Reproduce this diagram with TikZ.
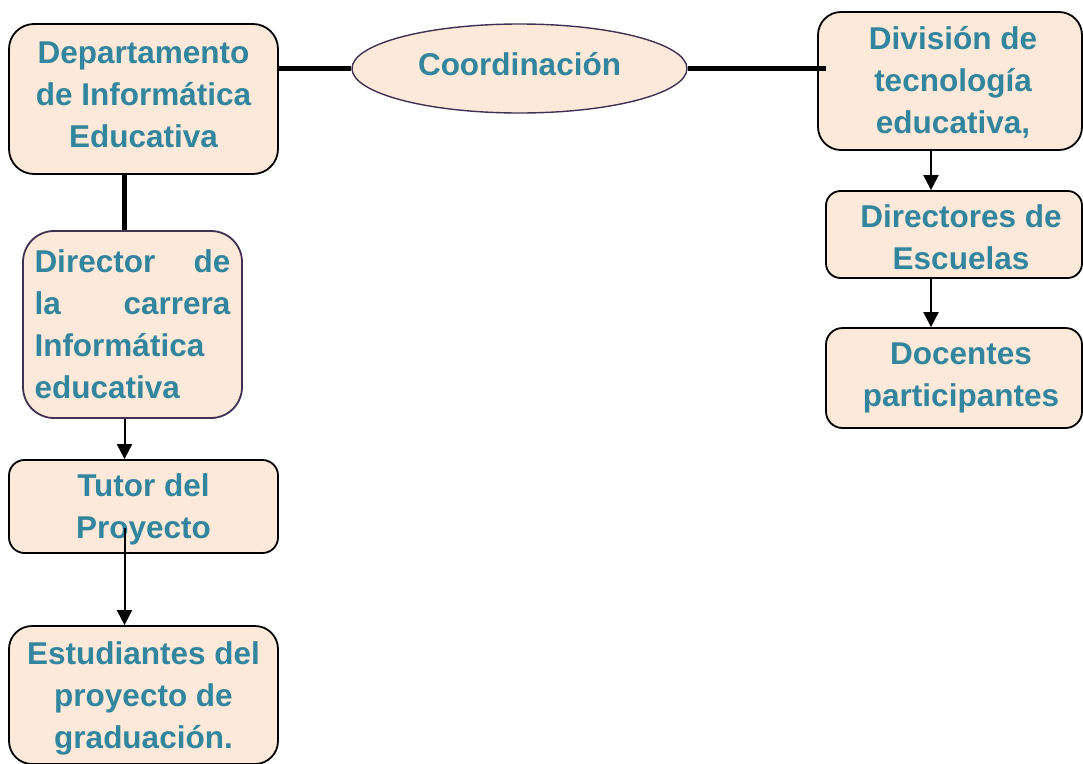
\documentclass[tikz,border=0pt]{standalone}
\usepackage{fontspec}
\setmainfont{Liberation Sans}
\usetikzlibrary{shapes.geometric,arrows.meta,calc}
\definecolor{txt}{RGB}{49,133,156}
\definecolor{boxfill}{RGB}{253,233,217}
\definecolor{purp}{RGB}{64,49,82}
\tikzset{
  base/.style={fill=boxfill, line width=1.8pt, inner sep=0pt},
  rbox/.style={base, draw=black, rectangle},
  lbl/.style={align=center, inner sep=0pt, font=\fontsize{31.5}{42}\selectfont\bfseries, text=txt},
  thickline/.style={line width=5.5pt},
  arr/.style={line width=2pt, -{Triangle[length=15pt,width=15pt]}},
}
\begin{document}
\begin{tikzpicture}[x=1pt,y=-1pt]
\useasboundingbox (0,0) rectangle (1083,763);
\coordinate (lx) at (124.5,0);
\coordinate (rx) at (931,0);
% boxes
\node[rbox, rounded corners=25pt, minimum width=269pt, minimum height=150pt] (A) at (143.5,99) {};
\node[base, draw=purp, line width=1.4pt, ellipse, minimum width=335pt, minimum height=89pt] (ell) at (519.5,68.5) {};
\node[rbox, rounded corners=23pt, minimum width=264pt, minimum height=138pt] (D) at (950,81) {};
\node[rbox, rounded corners=14.5pt, minimum width=256pt, minimum height=87pt] (E) at (954,234.5) {};
\node[rbox, rounded corners=16.5pt, minimum width=256pt, minimum height=100pt] (F) at (954,378) {};
\node[base, draw=purp, rectangle, rounded corners=31pt, minimum width=219pt, minimum height=187pt] (B) at (132.5,324.5) {};
\node[rbox, rounded corners=15.5pt, minimum width=269pt, minimum height=93pt] (C) at (143.5,506.5) {};
\node[rbox, rounded corners=23pt, minimum width=269pt, minimum height=138pt] (G) at (143.5,695) {};
% texts
\node[lbl] (At) at (143.5,95) {Departamento\\de Informática\\Educativa};
\node[lbl] (ellt) at (519.5,64) {Coordinación};
\node[lbl] (Dt) at (953,82.5) {División de\\tecnología\\educativa,};
\node[lbl] (Et) at (961,237.5) {Directores de\\Escuelas};
\node[lbl] (Ft) at (961,378) {Docentes\\participantes};
\node[lbl, align=left] (Bt) at (132.5,324.5)
  {\hbox to 196pt{Director\hfill de}\\\hbox to 196pt{la\hfill carrera}\\Informática\\educativa};
\node[lbl] (Ct) at (143.5,509.5) {Tutor del\\Proyecto};
\node[lbl] (Gt) at (143.5,698) {Estudiantes del\\proyecto de\\graduación.};
\coordinate (cstart) at (124.5,528);
\coordinate (dend) at (826,68.5);
% connectors
\draw[thickline] (ell.west -| A.east) -- (ell.west);
\draw[thickline] (ell.east) -- (dend);
\draw[thickline] (A.south -| lx) -- (B.north -| lx);
\draw[arr] (B.south -| lx) -- (C.north -| lx);
\draw[arr] (cstart) -- (G.north -| lx);
\draw[arr] (D.south -| rx) -- (E.north -| rx);
\draw[arr] (E.south -| rx) -- (F.north -| rx);
\end{tikzpicture}
\end{document}
